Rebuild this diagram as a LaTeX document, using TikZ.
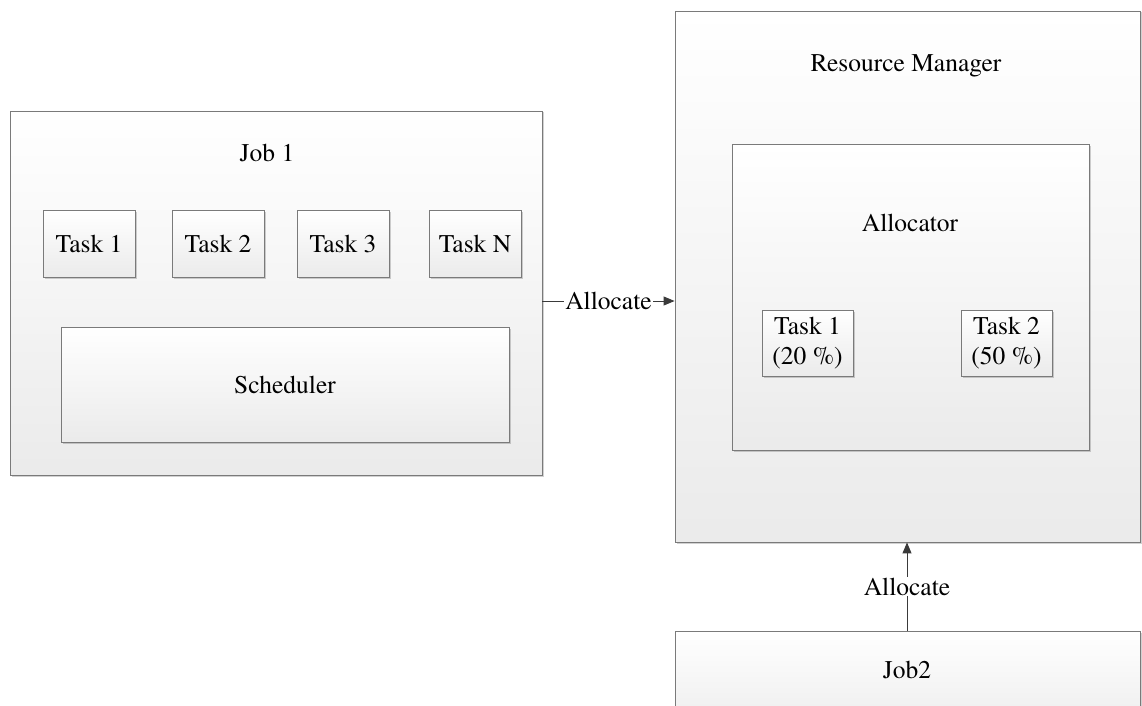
\documentclass[tikz,border=0pt]{standalone}
\usepackage{fontspec}
\setmainfont{texgyretermes}[Extension=.otf, UprightFont=*-regular, BoldFont=*-bold, ItalicFont=*-italic]
\usetikzlibrary{arrows.meta,shadows}
\definecolor{edge}{HTML}{7A7A7A}
\definecolor{wire}{HTML}{3A3A3A}
\tikzset{
  box/.style={draw=edge, line width=0.9pt, top color=white, bottom color=black!8,
    drop shadow={shadow xshift=1.5pt, shadow yshift=-1.5pt, fill=black, opacity=0.18},
    inner sep=0pt, anchor=center},
  caption/.style={font=\rmfamily\fontsize{25.5}{30.5}\selectfont, inner sep=0pt, text=black},
  tasktext/.style={font=\rmfamily\fontsize{25.5}{30.5}\selectfont, align=center, text=black},
  wirearrow/.style={draw=wire, line width=1pt, -{Triangle[length=11pt,width=9pt]}},
  wirelabel/.style={font=\rmfamily\fontsize{25.5}{30.5}\selectfont, fill=white, inner sep=1pt, text=black}
}
\begin{document}
\begin{tikzpicture}[x=1pt,y=-1pt]
\useasboundingbox (0,0) rectangle (1142,706);
\fill[white] (0,0) rectangle (1142,706);

% Job 1 with its tasks and scheduler
\node[box, minimum width=532pt, minimum height=364pt] (job1) at (276,293) {};
\node[caption] (job1title) at (267,153) {Job 1};
\node[box, tasktext, minimum width=92pt, minimum height=67pt] (t1) at (89,243.5) {Task 1};
\node[box, tasktext, minimum width=92pt, minimum height=67pt] (t2) at (218,243.5) {Task 2};
\node[box, tasktext, minimum width=92pt, minimum height=67pt] (t3) at (343,243.5) {Task 3};
\node[box, tasktext, minimum width=92pt, minimum height=67pt] (tn) at (475,243.5) {Task N};
\node[box, tasktext, minimum width=448pt, minimum height=115pt] (sched) at (285,384.5) {Scheduler};

% Resource manager and allocator
\node[box, minimum width=465pt, minimum height=531pt] (rm) at (907.5,276.5) {};
\node[caption] (rmtitle) at (906,66) {Resource Manager};
\node[box, minimum width=357pt, minimum height=306pt] (alloc) at (911,297) {};
\node[caption] (alloctitle) at (910,223) {Allocator};
\node[box, tasktext, minimum width=91pt, minimum height=66pt] (a1) at (807.5,343) {Task 1\\(20 \%)};
\node[box, tasktext, minimum width=91pt, minimum height=66pt] (a2) at (1006.5,343) {Task 2\\(50 \%)};

% Second job
\node[box, minimum width=465pt, minimum height=109pt] (job2) at (907.5,685.5) {};
\node[caption] (job2title) at (907,670) {Job2};

% Allocation requests
\coordinate (h1) at (job1.east |- 0,301);
\coordinate (h2) at (rm.west |- 0,301);
\draw[wirearrow] (h1) -- node[wirelabel] {Allocate} (h2);
\coordinate (v1) at (907,0 |- job2.north);
\coordinate (v2) at (907,0 |- rm.south);
\draw[wirearrow] (v1) -- node[wirelabel, pos=0.5] {Allocate} (v2);
\end{tikzpicture}
\end{document}
